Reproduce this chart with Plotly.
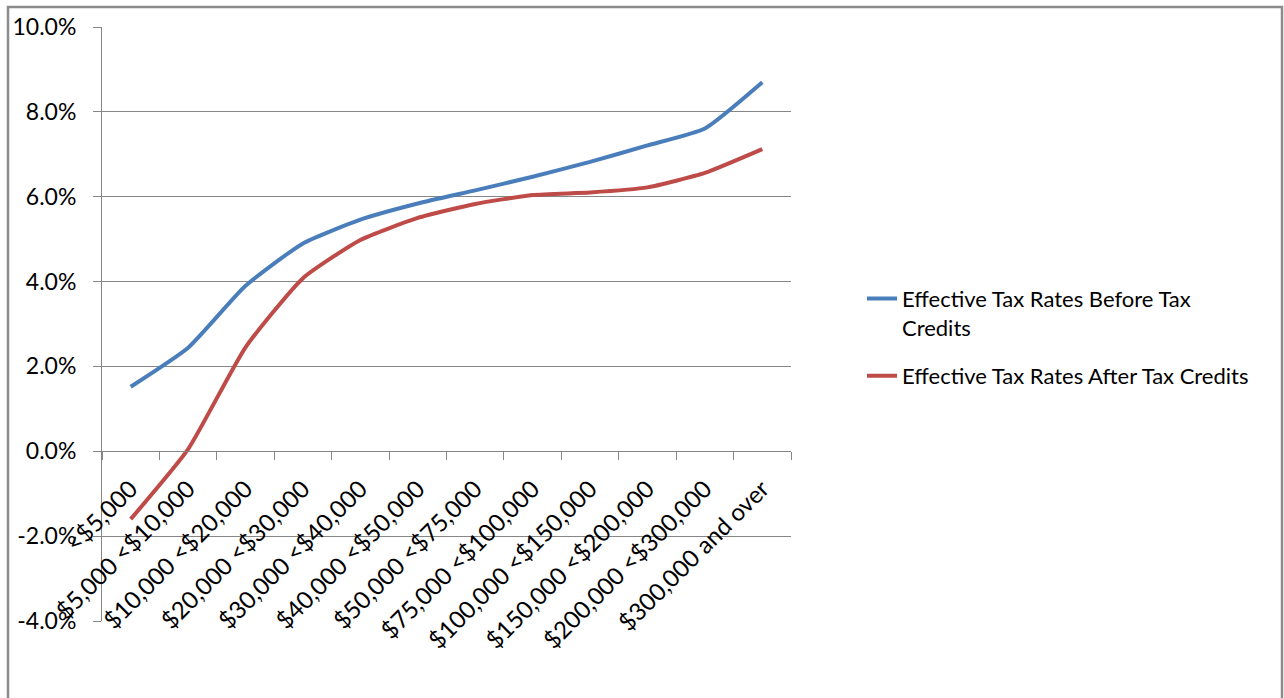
import plotly.graph_objects as go

categories = ["<$5,000", "$5,000 <$10,000", "$10,000 <$20,000", "$20,000 <$30,000",
              "$30,000 <$40,000", "$40,000 <$50,000", "$50,000 <$75,000",
              "$75,000 <$100,000", "$100,000 <$150,000", "$150,000 <$200,000",
              "$200,000 <$300,000", "$300,000 and over"]
before_credits = [1.52, 2.44, 3.90, 4.90, 5.46, 5.84, 6.15, 6.47, 6.82, 7.21, 7.61, 8.70]
after_credits = [-1.60, 0.05, 2.45, 4.08, 4.98, 5.50, 5.83, 6.04, 6.10, 6.22, 6.56, 7.12]

series_names = ["Effective Tax Rates Before Tax<br>Credits", "Effective Tax Rates After Tax Credits"]
colors = ["#4A7EBB", "#BE4B48"]

y_tick_values = [-4, -2, 0, 2, 4, 6, 8, 10]
y_tick_labels = ["-4.0%", "-2.0%", "0.0%", "2.0%", "4.0%", "6.0%", "8.0%", "10.0%"]
y_min, y_max = -4, 10

W, H = 1284, 698
L, R, T, B = 102, 493, 24, 77
pw, ph = W - L - R, H - T - B

font = dict(family="Lato, 'Open Sans', sans-serif", size=22, color="#000000")

fig = go.Figure()
for i, (name, vals, c) in enumerate(zip(series_names, [before_credits, after_credits], colors)):
    fig.add_trace(go.Scatter(x=categories, y=vals, mode="lines", name=name,
                             legendgroup="g%d" % i,
                             line=dict(color=c, width=4, shape="spline", smoothing=0.5)))

def px_x(x):
    return (x - L) / pw

def px_y(y):
    return (H - B - y) / ph

fig.update_layout(
    width=W, height=H,
    margin=dict(l=L, r=R, t=T, b=B, pad=0),
    paper_bgcolor="white", plot_bgcolor="white",
    font=font,
    showlegend=True,
    legend=dict(x=px_x(862), y=px_y(276), xanchor="left", yanchor="top",
                font=dict(size=22), valign="top", tracegroupgap=17,
                traceorder="grouped", bgcolor="rgba(0,0,0,0)"),
    xaxis=dict(type="category", anchor="free",
               position=(0 - y_min) / (y_max - y_min),
               showline=True, linecolor="#868686", linewidth=1,
               ticks="outside", tickson="boundaries", ticklen=8, tickcolor="#868686",
               tickangle=-45, showgrid=False, zeroline=False,
               ticklabelstandoff=13,
               tickfont=dict(size=24), range=[-0.5, len(categories) - 0.5]),
    yaxis=dict(range=[y_min, y_max], tickvals=y_tick_values, ticktext=y_tick_labels,
               showline=True, linecolor="#868686", linewidth=1,
               ticks="outside", ticklen=8, tickcolor="#868686",
               showgrid=True, gridcolor="#868686", gridwidth=1, zeroline=False,
               ticklabelstandoff=12, tickfont=dict(size=23)),
    shapes=[dict(type="rect", xref="paper", yref="paper",
                 x0=px_x(8), x1=px_x(1282), y0=px_y(720), y1=px_y(4),
                 line=dict(color="#8C8C8C", width=2.5), fillcolor="rgba(0,0,0,0)", layer="below")],
)

fig.write_html("out.html", config={"displayModeBar": False},
               post_script="document.body.style.margin='0';")
